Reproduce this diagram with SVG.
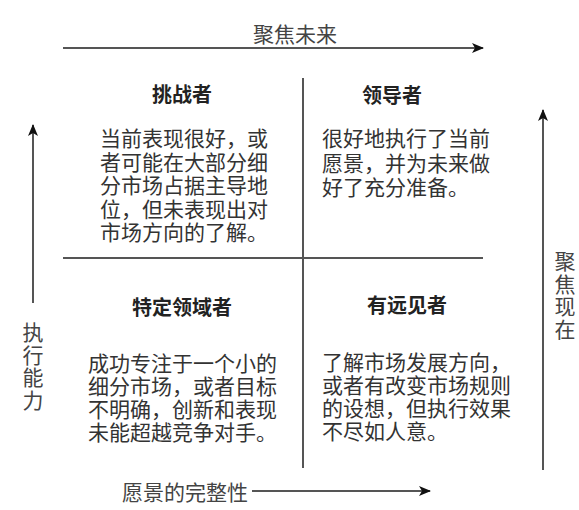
<svg xmlns="http://www.w3.org/2000/svg" width="579" height="510" viewBox="0 0 579 510">
<style>
.ln{stroke:#555;stroke-width:2;fill:none}
.ax{font-family:"Noto Sans CJK SC","Noto Sans",sans-serif;font-size:21px;fill:#444}
.vt{writing-mode:vertical-rl;letter-spacing:1.5px}
.hd{font-family:"Noto Sans CJK SC","Noto Sans",sans-serif;font-size:20px;font-weight:bold;fill:#222;text-anchor:middle}
.bd{font-family:"Liberation Sans","Noto Sans CJK SC",sans-serif;font-size:21px;fill:#333}
</style>
<defs>
<marker id="ah" viewBox="0 0 12 10" refX="11" refY="5" markerWidth="12" markerHeight="10" markerUnits="userSpaceOnUse" orient="auto">
<path d="M0,0 L12,5 L0,10 L3,5 Z" fill="#111"/>
</marker>
</defs>
<rect width="579" height="510" fill="#fff"/>
<g id="connectors">
<line class="ln" x1="63" y1="48" x2="483" y2="48" marker-end="url(#ah)"/>
<line class="ln" x1="33" y1="303" x2="33" y2="125" marker-end="url(#ah)"/>
<line class="ln" x1="543" y1="470" x2="543" y2="110" marker-end="url(#ah)"/>
<line class="ln" x1="252" y1="491" x2="430" y2="491" marker-end="url(#ah)"/>
<line class="ln" x1="303" y1="78" x2="303" y2="468"/>
<line class="ln" x1="63" y1="258" x2="483" y2="258"/>
</g>
<g id="axis-top"><text class="ax" x="295" y="42" text-anchor="middle">聚焦未来</text></g>
<g id="axis-bottom"><text class="ax" x="122" y="500">愿景的完整性</text></g>
<g id="axis-left"><text class="ax vt" x="33" y="322">执行能力</text></g>
<g id="axis-right"><text class="ax vt" x="565" y="251">聚焦现在</text></g>
<g id="challenger">
<text class="hd" x="182" y="102">挑战者</text>
<text class="bd"><tspan x="100" y="146">当前表现很好，或</tspan><tspan x="100" y="169.5">者可能在大部分细</tspan><tspan x="100" y="193">分市场占据主导地</tspan><tspan x="100" y="216.5">位，但未表现出对</tspan><tspan x="100" y="240">市场方向的了解。</tspan></text>
</g>
<g id="leader">
<text class="hd" x="392" y="103">领导者</text>
<text class="bd"><tspan x="322" y="146">很好地执行了当前</tspan><tspan x="322" y="170.5">愿景，并为未来做</tspan><tspan x="322" y="195">好了充分准备。</tspan></text>
</g>
<g id="niche">
<text class="hd" x="182" y="315">特定领域者</text>
<text class="bd"><tspan x="88" y="371">成功专注于一个小的</tspan><tspan x="88" y="394">细分市场，或者目标</tspan><tspan x="88" y="417">不明确，创新和表现</tspan><tspan x="88" y="440">未能超越竞争对手。</tspan></text>
</g>
<g id="visionary">
<text class="hd" x="407" y="313">有远见者</text>
<text class="bd"><tspan x="322" y="370">了解市场发展方向，</tspan><tspan x="322" y="393">或者有改变市场规则</tspan><tspan x="322" y="416">的设想，但执行效果</tspan><tspan x="322" y="439">不尽如人意。</tspan></text>
</g>
</svg>
